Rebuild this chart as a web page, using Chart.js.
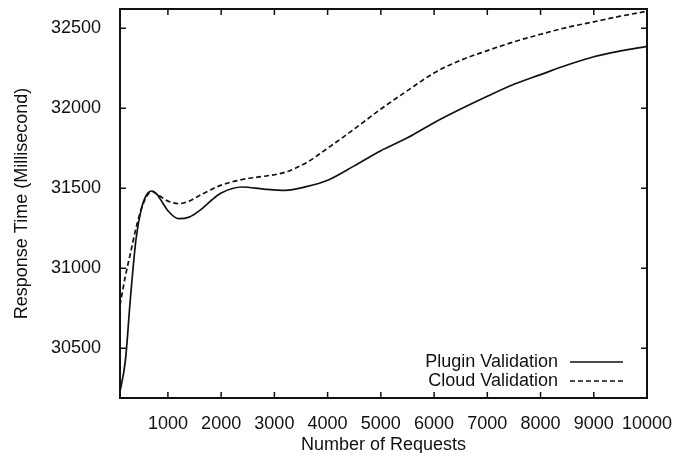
<!DOCTYPE html>
<html>
<head>
<meta charset="utf-8">
<script src="https://cdn.jsdelivr.net/npm/chart.js@4/dist/chart.umd.min.js"></script>
<style>
  html, body { margin: 0; padding: 0; background: #fff; }
  #wrap { width: 675px; height: 453px; }
</style>
</head>
<body>
<div id="wrap"><canvas id="chartRespuesta"></canvas></div>
<script>
// --- datos ---
const requests = [100, 200, 300, 400, 500, 600, 700, 800, 900, 1000, 1200, 1400, 1600, 1800, 2000, 2400, 2800, 3200, 3600, 4000, 4500, 5000, 5500, 6000, 6500, 7000, 7500, 8000, 8500, 9000, 9500, 10000];
const pluginValidation = [30230, 30420, 30830, 31180, 31370, 31460, 31483, 31460, 31410, 31360, 31310, 31320, 31362, 31420, 31470, 31508, 31495, 31487, 31510, 31550, 31640, 31735, 31815, 31910, 31995, 32075, 32150, 32210, 32270, 32322, 32358, 32387];
const cloudValidation = [30770, 30950, 31100, 31250, 31370, 31450, 31480, 31462, 31440, 31420, 31404, 31420, 31456, 31490, 31520, 31555, 31575, 31600, 31660, 31750, 31870, 31995, 32110, 32220, 32300, 32360, 32415, 32462, 32505, 32540, 32575, 32606];
const xTicks = [1000, 2000, 3000, 4000, 5000, 6000, 7000, 8000, 9000, 10000];
const yTicks = [30500, 31000, 31500, 32000, 32500];
const seriesLabels = ['Plugin Validation', 'Cloud Validation'];

const FUENTE = '"Liberation Sans", Arial, sans-serif';
const TAM = 18;
const NEGRO = '#111';

// ticks hacia adentro en los cuatro lados + marco
const marcoPlugin = {
    id: 'marco',
    afterDraw(chart) {
        const { ctx, chartArea: a, scales } = chart;
        const tl = 6;
        ctx.save();
        ctx.strokeStyle = NEGRO;
        ctx.lineWidth = 1.5;
        xTicks.forEach(v => {
            const px = scales.x.getPixelForValue(v);
            ctx.beginPath();
            ctx.moveTo(px, a.bottom); ctx.lineTo(px, a.bottom - tl);
            ctx.moveTo(px, a.top); ctx.lineTo(px, a.top + tl);
            ctx.stroke();
        });
        yTicks.forEach(v => {
            const py = scales.y.getPixelForValue(v);
            ctx.beginPath();
            ctx.moveTo(a.left, py); ctx.lineTo(a.left + tl, py);
            ctx.moveTo(a.right, py); ctx.lineTo(a.right - tl, py);
            ctx.stroke();
        });
        ctx.lineWidth = 2;
        ctx.strokeRect(a.left, a.top, a.right - a.left, a.bottom - a.top);
        ctx.restore();
    }
};

// leyenda estilo gnuplot (texto a la derecha + muestra de linea)
const leyendaPlugin = {
    id: 'leyendaGnuplot',
    afterDraw(chart) {
        const { ctx, chartArea: a } = chart;
        const xTexto = a.right - 89;
        const x1 = a.right - 77, x2 = a.right - 24;
        const filas = [a.bottom - 36, a.bottom - 17];
        ctx.save();
        ctx.font = TAM + 'px ' + FUENTE;
        ctx.fillStyle = NEGRO;
        ctx.textAlign = 'right';
        ctx.textBaseline = 'middle';
        chart.data.datasets.forEach((ds, i) => {
            ctx.fillText(ds.label, xTexto, filas[i]);
            ctx.beginPath();
            ctx.strokeStyle = ds.borderColor;
            ctx.lineWidth = ds.borderWidth;
            ctx.setLineDash(ds.borderDash || []);
            ctx.moveTo(x1, filas[i]);
            ctx.lineTo(x2, filas[i]);
            ctx.stroke();
        });
        ctx.restore();
    }
};

new Chart(document.getElementById('chartRespuesta'), {
    type: 'line',
    data: {
        datasets: [
            {
                label: seriesLabels[0],
                data: requests.map((r, i) => ({ x: r, y: pluginValidation[i] })),
                borderColor: NEGRO,
                borderWidth: 1.7,
                pointRadius: 0,
                cubicInterpolationMode: 'monotone'
            },
            {
                label: seriesLabels[1],
                data: requests.map((r, i) => ({ x: r, y: cloudValidation[i] })),
                borderColor: NEGRO,
                borderWidth: 1.7,
                borderDash: [5, 3],
                pointRadius: 0,
                cubicInterpolationMode: 'monotone'
            }
        ]
    },
    options: {
        responsive: true,
        maintainAspectRatio: false,
        animation: false,
        layout: { padding: { top: 9, right: 28, bottom: 0, left: 0 } },
        plugins: { legend: { display: false }, tooltip: { enabled: false } },
        scales: {
            x: {
                type: 'linear',
                min: 100,
                max: 10000,
                afterBuildTicks: s => { s.ticks = xTicks.map(v => ({ value: v })); },
                afterFit: s => { s.height = 55; s.paddingLeft = 0; s.paddingRight = 0; },
                grid: { display: false },
                border: { display: false },
                ticks: { color: NEGRO, padding: 7, maxRotation: 0, autoSkip: false, callback: v => String(v), font: { family: FUENTE, size: TAM } },
                title: { display: true, text: 'Number of Requests', color: NEGRO, padding: { top: 0, bottom: -3 }, font: { family: FUENTE, size: TAM } }
            },
            y: {
                min: 30190,
                max: 32620,
                afterBuildTicks: s => { s.ticks = yTicks.map(v => ({ value: v })); },
                afterFit: s => { s.width = 120; s.paddingTop = 0; s.paddingBottom = 0; },
                grid: { display: false },
                border: { display: false },
                ticks: { color: NEGRO, padding: 11, callback: v => String(v), font: { family: FUENTE, size: TAM } },
                title: { display: true, text: 'Response Time (Millisecond)', color: NEGRO, padding: { top: 11, bottom: 0 }, font: { family: FUENTE, size: TAM } }
            }
        }
    },
    plugins: [marcoPlugin, leyendaPlugin]
});
</script>
</body>
</html>
